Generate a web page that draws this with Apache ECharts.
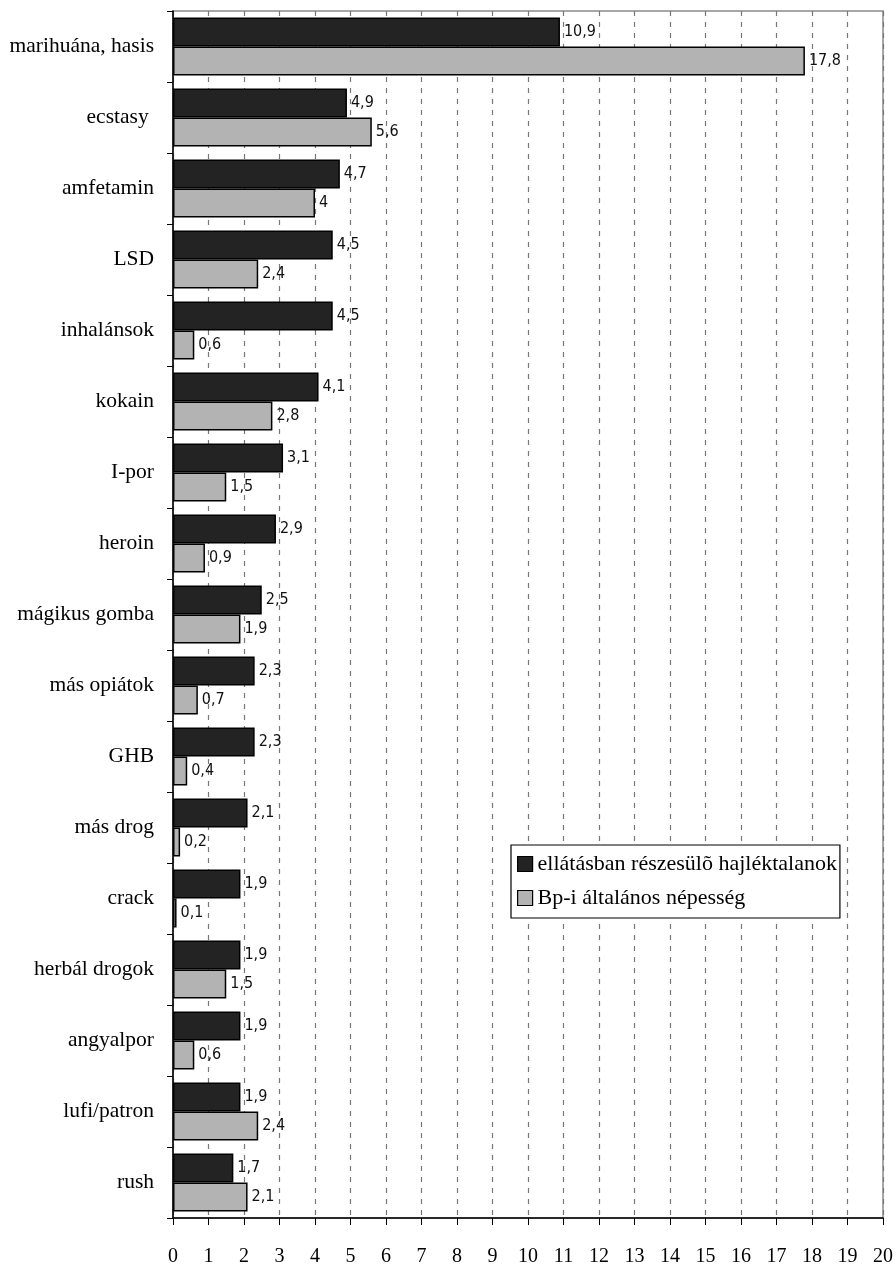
<!DOCTYPE html>
<html>
<head>
<meta charset="utf-8">
<script src="https://cdn.jsdelivr.net/npm/echarts@6/dist/echarts.min.js"></script>
<style>
  html, body { margin: 0; padding: 0; background: #fff; }
  #chart { width: 896px; height: 1266px; }
</style>
</head>
<body>
<div id="chart"></div>
<script>
// Drug categories, top to bottom
const categories = [
  'marihuána, hasis', 'ecstasy ', 'amfetamin', 'LSD', 'inhalánsok', 'kokain',
  'I-por', 'heroin', 'mágikus gomba', 'más opiátok', 'GHB', 'más drog',
  'crack', 'herbál drogok', 'angyalpor', 'lufi/patron', 'rush'
];
// Homeless people in care (%)
const homeless = [10.9, 4.9, 4.7, 4.5, 4.5, 4.1, 3.1, 2.9, 2.5, 2.3, 2.3, 2.1, 1.9, 1.9, 1.9, 1.9, 1.7];
// Budapest general population (%)
const general = [17.8, 5.6, 4, 2.4, 0.6, 2.8, 1.5, 0.9, 1.9, 0.7, 0.4, 0.2, 0.1, 1.5, 0.6, 2.4, 2.1];
const seriesNames = ['ellátásban részesülõ hajléktalanok', 'Bp-i általános népesség'];
const xTicks = { min: 0, max: 20, step: 1 };

const serif = '"Liberation Serif", "Times New Roman", serif';
const narrow = '"Liberation Sans Narrow", "DejaVu Sans Condensed", "Liberation Sans", sans-serif';

const fmt = v => String(v).replace('.', ',');
const valueLabel = {
  show: true,
  position: 'right',
  distance: 4,
  fontFamily: narrow,
  fontSize: 16,
  color: '#111',
  formatter: p => fmt(p.value)
};

const chart = echarts.init(document.getElementById('chart'), null, { renderer: 'canvas' });
chart.setOption({
  animation: false,
  backgroundColor: '#fff',
  grid: {
    left: 173, right: 13, top: 11, bottom: 48,
    outerBoundsMode: 'none',
    show: true, borderColor: '#8a8a8a', borderWidth: 1.5, backgroundColor: 'transparent'
  },
  legend: {
    orient: 'vertical',
    left: 511,
    top: 845,
    padding: [8, 3, 9, 6],
    itemGap: 12,
    itemWidth: 15,
    itemHeight: 15,
    backgroundColor: '#fff',
    borderColor: '#000',
    borderWidth: 1.2,
    borderRadius: 0,
    textStyle: { fontFamily: serif, fontSize: 22, color: '#000', padding: [0, 0, 0, 0] },
    itemStyle: { borderColor: '#000', borderWidth: 1.2 },
    data: seriesNames.map(n => ({ name: n, icon: 'rect' }))
  },
  xAxis: {
    type: 'value',
    min: xTicks.min,
    max: xTicks.max,
    interval: xTicks.step,
    axisLine: { show: true, lineStyle: { color: '#000', width: 1.5 } },
    axisTick: { show: true, length: 7, lineStyle: { color: '#000', width: 1 } },
    axisLabel: { fontFamily: serif, fontSize: 20, color: '#000', margin: 29 },
    splitLine: { show: true, lineStyle: { color: '#777', type: [5, 6], width: 1.2 } }
  },
  yAxis: {
    type: 'category',
    inverse: true,
    data: categories,
    axisLine: { show: true, lineStyle: { color: '#000', width: 1.5 } },
    axisTick: { show: true, length: 6, interval: 0, lineStyle: { color: '#000', width: 1 } },
    axisLabel: { fontFamily: serif, fontSize: 21.5, color: '#000', margin: 19, padding: [7, 0, 0, 0] },
    splitLine: { show: false }
  },
  series: [
    {
      name: seriesNames[0],
      type: 'bar',
      data: homeless,
      barGap: '0%',
      barCategoryGap: '18%',
      itemStyle: { color: '#232323', borderColor: '#000', borderWidth: 1.5 },
      label: valueLabel
    },
    {
      name: seriesNames[1],
      type: 'bar',
      data: general,
      itemStyle: { color: '#b3b3b3', borderColor: '#000', borderWidth: 1.5 },
      label: valueLabel
    }
  ]
});
</script>
</body>
</html>
